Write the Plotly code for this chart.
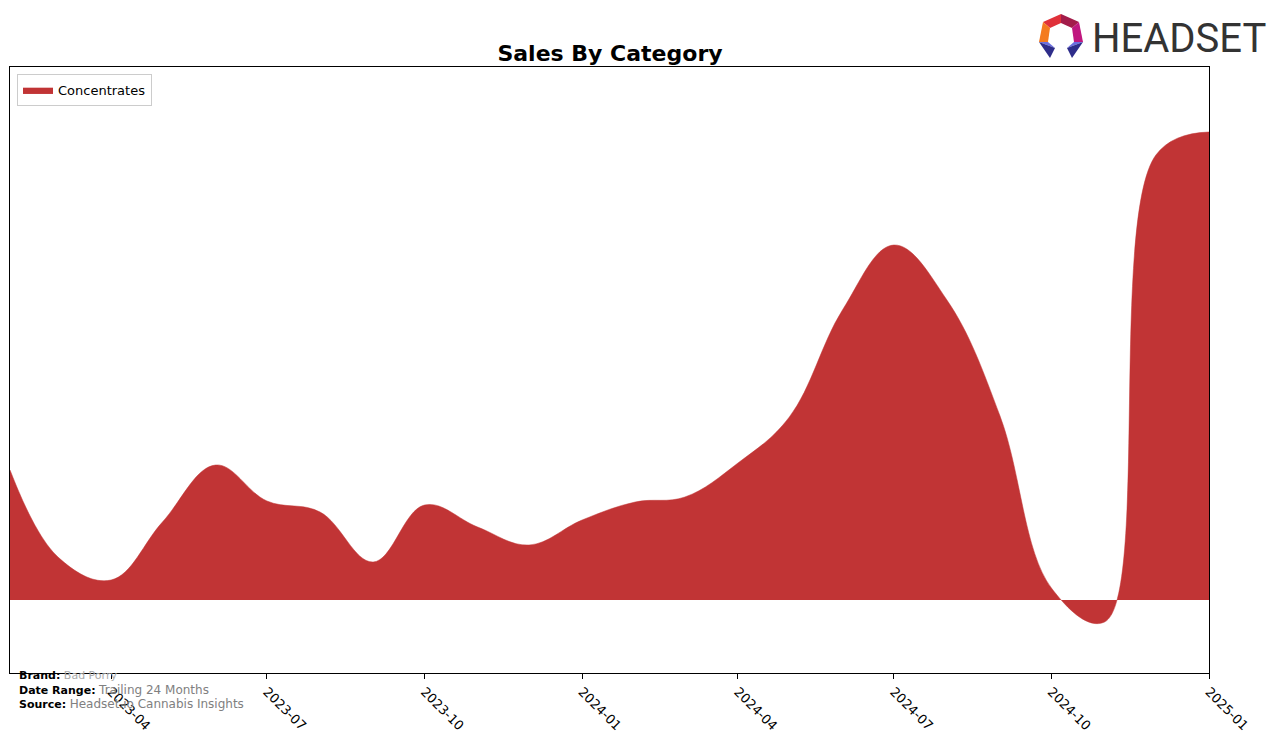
import plotly.graph_objects as go

# ---- data ----
months = ["2023-02-01", "2023-03-01", "2023-04-01", "2023-05-01", "2023-06-01", "2023-07-01",
          "2023-08-01", "2023-09-01", "2023-10-01", "2023-11-01", "2023-12-01", "2024-01-01",
          "2024-02-01", "2024-03-01", "2024-04-01", "2024-05-01", "2024-06-01", "2024-07-01",
          "2024-08-01", "2024-09-01", "2024-10-01", "2024-11-01", "2024-12-01", "2025-01-01"]
concentrates = [130, 43, 20, 78, 135, 99, 88, 38, 95, 73, 55, 80,
                98, 103, 137, 183, 290, 355, 300, 184, 12, -22, 445, 468]
tick_vals = ["2023-04-01", "2023-07-01", "2023-10-01", "2024-01-01",
             "2024-04-01", "2024-07-01", "2024-10-01", "2025-01-01"]
tick_text = ["2023-04", "2023-07", "2023-10", "2024-01",
             "2024-04", "2024-07", "2024-10", "2025-01"]
series_name = "Concentrates"

W, H = 1276, 743
L, R, T, B = 10, 1209, 67, 673


def px(x):
    return (x - L) / (R - L)


def py(y):
    return (B - y) / (B - T)


fig = go.Figure()
fig.add_trace(go.Scatter(
    x=months, y=concentrates, name=series_name, mode="lines",
    line=dict(shape="spline", smoothing=1.1, color="#c13435", width=0.5),
    fill="tozeroy", fillcolor="#c13435",
))

fig.update_layout(
    width=W, height=H,
    margin=dict(l=L, r=W - R, t=T, b=H - B),
    paper_bgcolor="white", plot_bgcolor="white",
    font=dict(family="DejaVu Sans", color="black", size=13),
    title=dict(text="<b>Sales By Category</b>", x=px(610), xref="paper",
               y=1 - 53 / H, yref="container", xanchor="center", yanchor="middle",
               font=dict(size=22, family="DejaVu Sans", color="black")),
    showlegend=True,
    legend=dict(x=px(17), y=py(74), xanchor="left", yanchor="top",
                bgcolor="white", bordercolor="#cccccc", borderwidth=1,
                font=dict(size=13, family="DejaVu Sans"),
                itemwidth=30, tracegroupgap=0),
)
fig.update_xaxes(
    range=["2023-02-01", "2025-01-01"], tickvals=tick_vals, ticktext=tick_text,
    tickangle=45, ticks="outside", ticklen=5, tickcolor="black", tickwidth=1,
    showline=True, linecolor="black", linewidth=1, mirror=True,
    showgrid=False, zeroline=False, tickfont=dict(size=13, family="DejaVu Sans"),
)
fig.update_yaxes(
    range=[600 - B, 600 - T], showticklabels=False, ticks="",
    showline=True, linecolor="black", linewidth=1, mirror=True,
    showgrid=False, zeroline=False,
)

# footnote
foot = [
    (675, "<b>Brand:</b> <span style='color:#aaaaaa;font-size:11px'>Bad Porry</span>"),
    (690, "<b>Date Range:</b> <span style='color:gray;font-size:12px'>Trailing 24 Months</span>"),
    (704, "<b>Source:</b> <span style='color:gray;font-size:12px'>Headset.io Cannabis Insights</span>"),
]
for y, txt in foot:
    fig.add_annotation(text=txt, x=px(18), y=py(y), xref="paper", yref="paper",
                       xanchor="left", yanchor="middle", showarrow=False, borderpad=0,
                       font=dict(size=11, family="DejaVu Sans", color="black"))

# logo text
fig.add_annotation(text="HEADSET", x=px(1091), y=py(38), xref="paper", yref="paper",
                   xanchor="left", yanchor="middle", showarrow=False, borderpad=0,
                   font=dict(size=40, color="#333333", family="Roboto, sans-serif"))

# logo icon (approximate polygons)
icon = [
    ([(1043, 22), (1061, 14), (1061, 23), (1050, 28)], "#e0313a"),
    ([(1061, 14), (1079, 22), (1072, 28), (1061, 23)], "#a31c4a"),
    ([(1079, 22), (1083, 42), (1074, 42), (1072, 28)], "#c0177f"),
    ([(1043, 22), (1050, 28), (1048, 42), (1039, 42)], "#f47b20"),
    ([(1039, 42), (1048, 42), (1055, 48)], "#6b6ee0"),
    ([(1039, 42), (1055, 48), (1050, 58)], "#2e2d8a"),
    ([(1083, 42), (1074, 42), (1067, 48)], "#6b6ee0"),
    ([(1083, 42), (1067, 48), (1072, 58)], "#2e2d8a"),
]
for pts, col in icon:
    path = "M " + " L ".join(f"{px(a):.5f},{py(b):.5f}" for a, b in pts) + " Z"
    fig.add_shape(type="path", path=path, xref="paper", yref="paper",
                  fillcolor=col, line=dict(width=0), layer="above")

fig.write_html("out.html")
